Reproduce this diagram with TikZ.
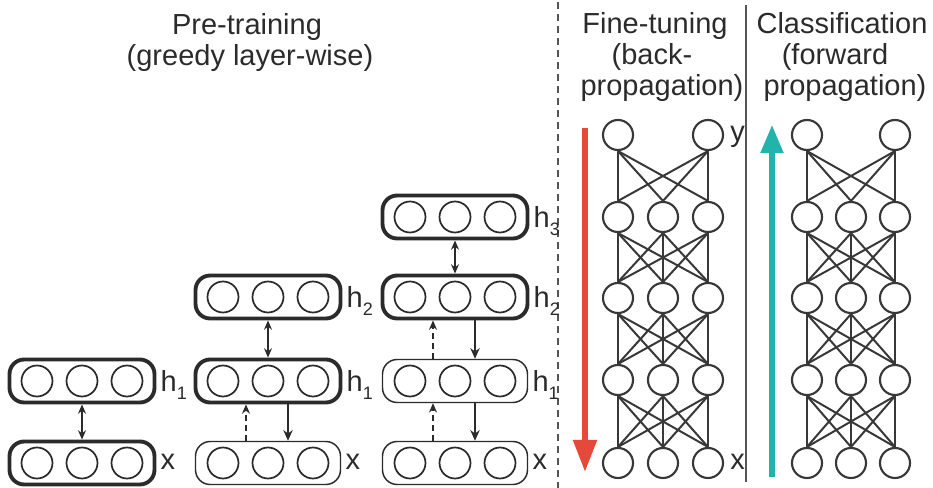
\documentclass[tikz,border=0pt]{standalone}
\usepackage{fontspec}
\setmainfont{Liberation Sans}
\usetikzlibrary{arrows.meta,calc}

\definecolor{ink}{HTML}{2B2B2B}
\definecolor{netgray}{HTML}{383838}
\definecolor{rulegray}{HTML}{555555}
\definecolor{backred}{HTML}{E5493A}
\definecolor{fwdteal}{HTML}{22B3AA}

% lowered small index after a layer name
\newcommand\layersub[1]{\raisebox{-6pt}{\fontsize{13.5}{14}\selectfont #1}}

\tikzset{
  layer/.style={draw=ink, rounded corners=11pt, minimum width=145*0.75pt,
    minimum height=43*0.75pt, inner sep=0pt},
  active/.style={layer, line width=2.9pt},
  idle/.style={layer, line width=1.1pt},
  unit/.style={circle, draw=ink, line width=1.3pt, minimum size=31*0.75pt, inner sep=0pt},
  neuron/.style={circle, draw=netgray, line width=1.6pt, minimum size=30*0.75pt, inner sep=0pt},
  link/.style={draw=netgray, line width=1.5pt},
  lbl/.style={anchor=base west, inner sep=0pt, text=ink,
    font=\fontsize{21.75}{22}\selectfont},
  title/.style={anchor=base, inner sep=0pt, text=ink,
    font=\fontsize{21.75}{22}\selectfont},
  pairarrow/.style={{Stealth[length=7pt,width=6pt]}-{Stealth[length=7pt,width=6pt]},
    draw=ink, line width=1.5pt},
  uparrow/.style={-{Stealth[length=7pt,width=6pt]}, draw=ink, line width=1.8pt,
    dash pattern=on 4.5pt off 3pt},
  downarrow/.style={-{Stealth[length=8pt,width=7pt]}, draw=ink, line width=2pt},
}

\begin{document}
\begin{tikzpicture}[x=0.75pt, y=-0.75pt]
\useasboundingbox (0,0) rectangle (933,488);

% ---------- titles ----------
\node[title] (pt1) at (247,35) {Pre-training};
\node[title] (pt2) at (250,66) {(greedy layer-wise)};
\node[title] (ft1) at (655,34) {Fine-tuning};
\node[title] (ft2) at (652,65) {(back-};
\node[title] (ft3) at (662,96) {propagation)};
\node[title] (cl1) at (842,34) {Classification};
\node[title] (cl2) at (835,65) {(forward};
\node[title] (cl3) at (845,96) {propagation)};

% ---------- separators ----------
\coordinate (sepAtop) at (558,2);
\coordinate (sepAbot) at (558,488);
\draw[rulegray, line width=1.4pt, dash pattern=on 5.25pt off 3.75pt] (sepAtop) -- (sepAbot);
\coordinate (sepBtop) at (746,5);
\coordinate (sepBbot) at (746,482);
\draw[rulegray, line width=1.5pt] (sepBtop) -- (sepBbot);

% ---------- pre-training stacks ----------
% stack 1
\node[active] (a1x)  at (82,463) {};
\node[active] (a1h1) at (82,381) {};
% stack 2
\node[idle]   (b2x)  at (268,463) {};
\node[active] (b2h1) at (268,381) {};
\node[active] (b2h2) at (268,297) {};
% stack 3
\node[idle]   (c3x)  at (455,463) {};
\node[idle]   (c3h1) at (455,381) {};
\node[active] (c3h2) at (455,297) {};
\node[active] (c3h3) at (455,217) {};

\foreach \b in {a1x,a1h1,b2x,b2h1,b2h2,c3x,c3h1,c3h2,c3h3}
  \foreach \i/\dx in {1/-45,2/0,3/45}
    \node[unit] (\b-\i) at ($(\b)+(\dx,0)$) {};

% layer names
\node[lbl] (a1xl)  at ($(a1x.east)+(4,7)$) {x};
\node[lbl] (a1h1l) at ($(a1h1.east)+(4,10.5)$) {h\layersub{1}};
\node[lbl] (b2xl)  at ($(b2x.east)+(4,7)$) {x};
\node[lbl] (b2h1l) at ($(b2h1.east)+(4,10.5)$) {h\layersub{1}};
\node[lbl] (b2h2l) at ($(b2h2.east)+(4,10.5)$) {h\layersub{2}};
\node[lbl] (c3xl)  at ($(c3x.east)+(4,7)$) {x};
\node[lbl] (c3h1l) at ($(c3h1.east)+(4,10.5)$) {h\layersub{1}};
\node[lbl] (c3h2l) at ($(c3h2.east)+(4,10.5)$) {h\layersub{2}};
\node[lbl] (c3h3l) at ($(c3h3.east)+(4,10.5)$) {h\layersub{3}};

% arrows between layers
\draw[pairarrow] (a1h1.south) -- (a1x.north);

\draw[pairarrow] (b2h2.south) -- (b2h1.north);
\draw[uparrow]   ($(b2x.north)+(-22,0)$) -- ($(b2h1.south)+(-22,0)$);
\draw[downarrow] ($(b2h1.south)+(20,0)$) -- ($(b2x.north)+(20,0)$);

\draw[pairarrow] (c3h3.south) -- (c3h2.north);
\draw[uparrow]   ($(c3h1.north)+(-22,0)$) -- ($(c3h2.south)+(-22,0)$);
\draw[downarrow] ($(c3h2.south)+(20,0)$) -- ($(c3h1.north)+(20,0)$);
\draw[uparrow]   ($(c3x.north)+(-22,0)$) -- ($(c3h1.south)+(-22,0)$);
\draw[downarrow] ($(c3h1.south)+(20,0)$) -- ($(c3x.north)+(20,0)$);

% ---------- fine-tuning network ----------
\foreach \r/\y in {2/217,3/298,4/380,5/463}
  \foreach \c/\x in {1/618,2/663,3/708}
    \node[neuron] (f\r\c) at (\x,\y) {};
\node[neuron] (f11) at (618,135) {};
\node[neuron] (f13) at (708,135) {};

\foreach \c in {1,3}
  \foreach \d in {1,2,3}
    \draw[link] (f1\c.south) -- (f2\d.north);
\foreach \r/\n in {2/3,3/4,4/5}
  \foreach \c in {1,2,3}
    \foreach \d in {1,2,3}
      \draw[link] (f\r\c.south) -- (f\n\d.north);

\node[lbl] (fyl) at ($(f13.east)+(6,7)$) {y};
\node[lbl] (fxl) at ($(f53.east)+(6,7)$) {x};

\coordinate (bpstart) at (585,128);
\coordinate (bpend) at (585,472);
\draw[backred, line width=4.5pt, -{Triangle[length=24pt,width=17pt]}] (bpstart) -- (bpend);

% ---------- classification network ----------
\foreach \r/\y in {2/217,3/298,4/380,5/463}
  \foreach \c/\x in {1/807,2/851,3/895}
    \node[neuron] (g\r\c) at (\x,\y) {};
\node[neuron] (g11) at (807,135) {};
\node[neuron] (g13) at (895,135) {};

\foreach \c in {1,3}
  \foreach \d in {1,2,3}
    \draw[link] (g1\c.south) -- (g2\d.north);
\foreach \r/\n in {2/3,3/4,4/5}
  \foreach \c in {1,2,3}
    \foreach \d in {1,2,3}
      \draw[link] (g\r\c.south) -- (g\n\d.north);

\coordinate (fpstart) at (772,477);
\coordinate (fpend) at (772,125);
\draw[fwdteal, line width=3.8pt, -{Triangle[length=21pt,width=16.5pt]}] (fpstart) -- (fpend);

\end{tikzpicture}
\end{document}
